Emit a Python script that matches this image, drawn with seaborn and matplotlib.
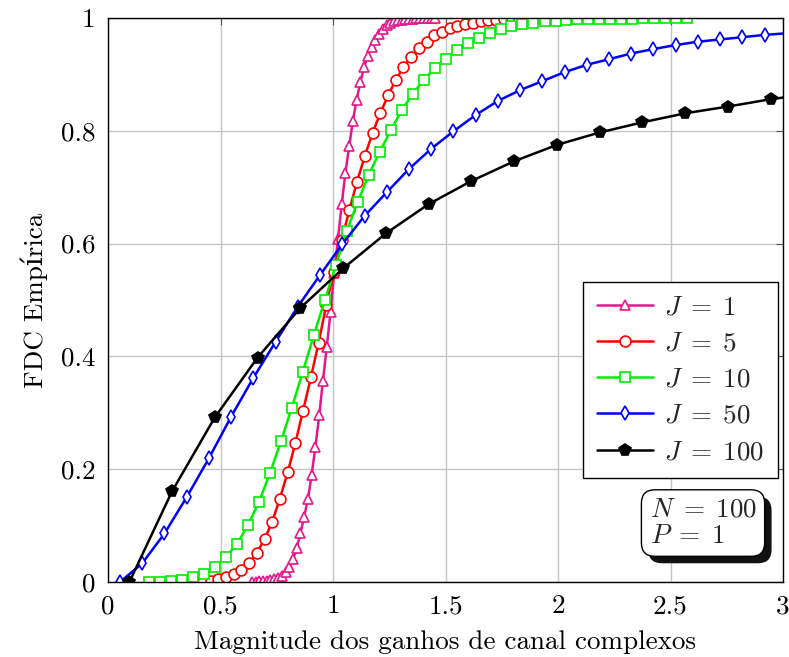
import numpy as np
import pandas as pd
import matplotlib
matplotlib.use("Agg")
import matplotlib.pyplot as plt
import matplotlib.patheffects as pe
import seaborn as sns

# ---------------- data ----------------
x_j1 = [0.639, 0.656, 0.672, 0.689, 0.706, 0.722, 0.739, 0.756, 0.772, 0.789,
        0.806, 0.822, 0.839, 0.855, 0.872, 0.889, 0.905, 0.922, 0.939, 0.955,
        0.972, 0.989, 1.005, 1.022, 1.039, 1.055, 1.072, 1.088, 1.105, 1.122,
        1.138, 1.155, 1.172, 1.188, 1.205, 1.222, 1.238, 1.255, 1.272, 1.288,
        1.305, 1.321, 1.338, 1.355, 1.371, 1.388, 1.405, 1.421, 1.438, 1.455]
y_j1 = [0.000, 0.000, 0.001, 0.001, 0.002, 0.003, 0.005, 0.007, 0.011, 0.017,
        0.026, 0.040, 0.061, 0.086, 0.116, 0.148, 0.190, 0.240, 0.296, 0.356,
        0.416, 0.478, 0.547, 0.608, 0.670, 0.725, 0.773, 0.817, 0.855, 0.887,
        0.913, 0.933, 0.948, 0.961, 0.972, 0.980, 0.987, 0.991, 0.994, 0.996,
        0.997, 0.998, 0.999, 0.999, 1.000, 1.000, 1.000, 1.000, 1.000, 1.000]

x_j5 = [0.387, 0.421, 0.456, 0.490, 0.524, 0.559, 0.593, 0.627, 0.661, 0.696,
        0.730, 0.764, 0.799, 0.833, 0.867, 0.902, 0.936, 0.970, 1.004, 1.039,
        1.073, 1.107, 1.142, 1.176, 1.210, 1.245, 1.279, 1.313, 1.348, 1.382,
        1.416, 1.451, 1.485, 1.519, 1.553, 1.588, 1.622, 1.656, 1.691, 1.725,
        1.759, 1.794, 1.828, 1.862, 1.897, 1.931, 1.965, 2.000, 2.034, 2.068]
y_j5 = [0.000, 0.000, 0.001, 0.005, 0.009, 0.015, 0.022, 0.033, 0.051, 0.076,
        0.107, 0.148, 0.195, 0.247, 0.304, 0.363, 0.424, 0.491, 0.550, 0.607,
        0.660, 0.710, 0.756, 0.796, 0.831, 0.863, 0.890, 0.913, 0.931, 0.946,
        0.958, 0.970, 0.976, 0.982, 0.986, 0.989, 0.992, 0.994, 0.996, 0.997,
        0.998, 0.998, 0.999, 0.999, 0.999, 1.000, 1.000, 1.000, 1.000, 1.000]

x_j10 = [0.183, 0.232, 0.281, 0.329, 0.378, 0.427, 0.476, 0.525, 0.573, 0.622,
         0.671, 0.720, 0.769, 0.817, 0.866, 0.915, 0.964, 1.013, 1.061, 1.110,
         1.159, 1.208, 1.257, 1.305, 1.354, 1.403, 1.452, 1.501, 1.549, 1.598,
         1.647, 1.696, 1.745, 1.793, 1.842, 1.891, 1.940, 1.989, 2.037, 2.086,
         2.135, 2.184, 2.233, 2.281, 2.330, 2.379, 2.428, 2.477, 2.525, 2.575]
y_j10 = [0.000, 0.000, 0.002, 0.004, 0.008, 0.014, 0.027, 0.045, 0.067, 0.101,
         0.142, 0.193, 0.250, 0.309, 0.373, 0.438, 0.500, 0.562, 0.622, 0.674,
         0.722, 0.763, 0.801, 0.836, 0.865, 0.890, 0.911, 0.928, 0.943, 0.955,
         0.964, 0.973, 0.980, 0.985, 0.989, 0.992, 0.994, 0.995, 0.997, 0.998,
         0.998, 0.999, 0.999, 0.999, 0.999, 1.000, 1.000, 1.000, 1.000, 1.000]

x_j50 = [0.053, 0.152, 0.251, 0.349, 0.448, 0.547, 0.646, 0.745, 0.843, 0.942,
         1.041, 1.140, 1.239, 1.337, 1.436, 1.535, 1.634, 1.733, 1.831, 1.930,
         2.029, 2.128, 2.227, 2.325, 2.424, 2.523, 2.622, 2.721, 2.819, 2.918,
         3.017]
y_j50 = [0.000, 0.033, 0.086, 0.150, 0.219, 0.293, 0.362, 0.426, 0.488, 0.544,
         0.599, 0.649, 0.691, 0.732, 0.768, 0.799, 0.828, 0.853, 0.872, 0.888,
         0.904, 0.917, 0.927, 0.937, 0.945, 0.952, 0.958, 0.962, 0.966, 0.970,
         0.973]

x_j100 = [0.095, 0.285, 0.475, 0.665, 0.855, 1.045, 1.235, 1.425, 1.615, 1.805,
          1.995, 2.185, 2.375, 2.565, 2.755, 2.945, 3.135]
y_j100 = [0.000, 0.161, 0.292, 0.398, 0.486, 0.556, 0.618, 0.670, 0.711, 0.746,
          0.775, 0.797, 0.815, 0.831, 0.843, 0.856, 0.866]

series_labels = [r"$J\;=\;1$", r"$J\;=\;5$", r"$J\;=\;10$", r"$J\;=\;50$", r"$J\;=\;100$"]
x_ticks = [0, 0.5, 1, 1.5, 2, 2.5, 3]
x_tick_labels = ["0", "0.5", "1", "1.5", "2", "2.5", "3"]
y_ticks = [0, 0.2, 0.4, 0.6, 0.8, 1]
y_tick_labels = ["0", "0.2", "0.4", "0.6", "0.8", "1"]
x_label = "Magnitude dos ganhos de canal complexos"
y_label = "FDC Empírica"
box_text = "$N\\;=\\;100$\n$P\\;=\\;1$"

# ---------------- style ----------------
sns.set_theme(style="whitegrid")
plt.rcParams["font.family"] = ["cmr10", "DejaVu Serif"]
plt.rcParams["mathtext.fontset"] = "cm"
plt.rcParams["axes.formatter.use_mathtext"] = True
plt.rcParams["axes.unicode_minus"] = False

FS = 19.5

fig = plt.figure(figsize=(7.89, 6.57), dpi=100)
ax = fig.add_axes([108 / 789, 75 / 657, 675 / 789, 564 / 657])
ax.set_facecolor("white")

styles = [
    dict(x=x_j1, y=y_j1, color="#E6168C", marker="^", ms=6.5, mfc="white", lw=1.8),
    dict(x=x_j5, y=y_j5, color="#FF0000", marker="o", ms=7.8, mfc="white", lw=1.8),
    dict(x=x_j10, y=y_j10, color="#00EE00", marker="s", ms=7.8, mfc="white", lw=1.8),
    dict(x=x_j50, y=y_j50, color="#0000FF", marker="d", ms=7.2, mfc="white", lw=1.8),
    dict(x=x_j100, y=y_j100, color="#000000", marker="p", ms=8.5, mfc="#000000", lw=1.8),
]

for st, lab in zip(styles, series_labels):
    df = pd.DataFrame({"x": st["x"], "y": st["y"]})
    inside = [i for i, v in enumerate(st["x"]) if v <= 3.0]
    sns.lineplot(data=df, x="x", y="y", ax=ax, color=st["color"], lw=st["lw"],
                 marker=st["marker"], markersize=st["ms"],
                 markerfacecolor=st["mfc"], markeredgecolor=st["color"],
                 markeredgewidth=1.2, markevery=inside, label=lab,
                 estimator=None, sort=False, zorder=3)

ax.set_xlim(0, 3)
ax.set_ylim(0, 1)
ax.set_xticks(x_ticks)
ax.set_xticklabels(x_tick_labels, fontsize=FS)
ax.set_yticks(y_ticks)
ax.set_yticklabels(y_tick_labels, fontsize=FS)
ax.grid(True, color="#c4c4c4", lw=1.0)
ax.tick_params(axis="both", direction="in", length=5, width=0.8, color="#555555",
               top=True, right=True, pad=9, labelcolor="black")
for sp in ax.spines.values():
    sp.set_color("black")
    sp.set_linewidth(1.0)
    sp.set_zorder(5)

ax.set_xlabel(x_label, fontsize=FS, labelpad=9, color="black")
ax.set_ylabel(y_label, fontsize=FS, labelpad=9, color="black")

leg = ax.legend(loc="upper right", bbox_to_anchor=(0.9926, 0.532),
                borderaxespad=0, fontsize=FS, frameon=True, fancybox=False,
                edgecolor="black", framealpha=1, handlelength=2.1,
                labelspacing=0.45, borderpad=0.5, handletextpad=0.4)
leg.get_frame().set_linewidth(1.0)

t = ax.text(0.8815, 0.1045, box_text, transform=ax.transAxes, ha="center", va="center",
            multialignment="left", fontsize=FS, linespacing=1.15, zorder=6,
            bbox=dict(boxstyle="round,pad=0.3,rounding_size=0.5", fc="white",
                      ec="black", lw=1.0))
t.get_bbox_patch().set_path_effects([
    pe.SimplePatchShadow(offset=(5, -5), shadow_rgbFace="#111111", alpha=1.0),
    pe.Normal()])

fig.savefig("out.png", dpi=100)
